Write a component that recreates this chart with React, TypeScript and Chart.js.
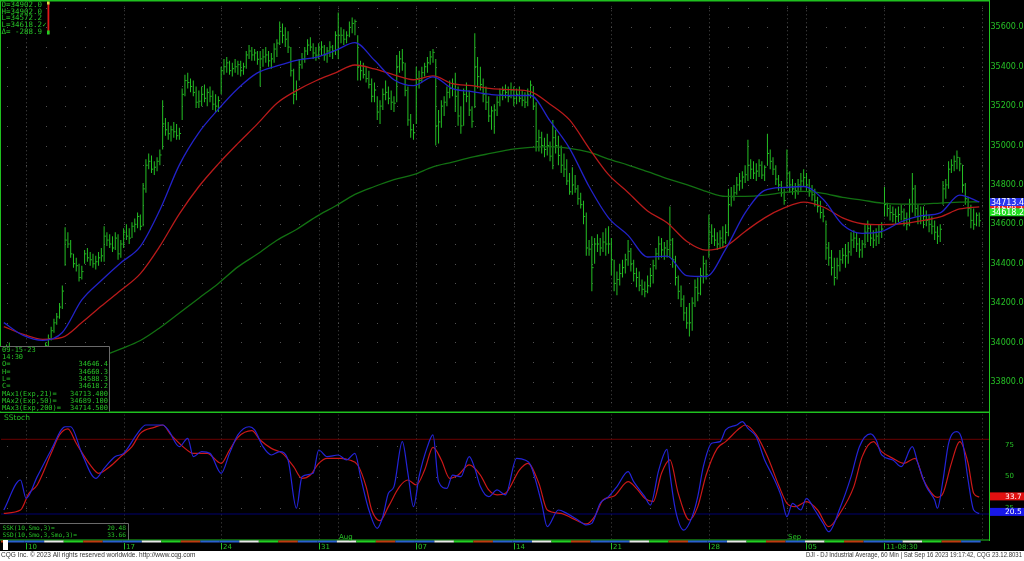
import React, { useEffect, useRef } from 'react';
import { Chart, registerables } from 'chart.js';
Chart.register(...registerables);

// ---------------- DATA (DJI 60 min, bar index 0 = Jul 6 14:30 CT ... 350 = Sep 15 14:30 CT) ----------------
const highs = [
  33960,
  33990, 34000, 33970, 33920, 33880, 33840, 33790,
  33790, 33800, 33830, 33850, 33880, 33920, 33965,
  34000, 34040, 34080, 34120, 34150, 34200, 34290,
  34585, 34560, 34520, 34450, 34430, 34400, 34390,
  34470, 34480, 34460, 34450, 34440, 34460, 34480,
  34590, 34560, 34550, 34540, 34560, 34550, 34520,
  34580, 34600, 34580, 34610, 34630, 34660, 34650,
  34810, 34930, 34960, 34950, 34920, 34940, 34980,
  35230, 35140, 35120, 35100, 35120, 35110, 35090,
  35290, 35360, 35370, 35340, 35330, 35300, 35280,
  35300, 35310, 35290, 35300, 35280, 35260, 35250,
  35400, 35440, 35450, 35430, 35420, 35440, 35430,
  35430, 35420, 35480, 35510, 35500, 35490, 35480,
  35480, 35490, 35500, 35480, 35470, 35520, 35540,
  35630, 35620, 35600, 35580, 35500, 35390, 35330,
  35440, 35470, 35500, 35540, 35550, 35520, 35500,
  35520, 35530, 35510, 35500, 35530, 35510, 35580,
  35675, 35600, 35590, 35580, 35630, 35650, 35640,
  35560, 35430, 35420, 35400, 35380, 35340, 35320,
  35250, 35230, 35290, 35330, 35300, 35280, 35250,
  35460, 35480, 35490, 35420, 35300, 35160, 35110,
  35400, 35380, 35400, 35420, 35450, 35480, 35490,
  35440, 35180, 35230, 35250, 35300, 35330, 35340,
  35370, 35300, 35200, 35290, 35320, 35280, 35200,
  35570, 35450, 35400, 35340, 35300, 35250, 35200,
  35210, 35250, 35290, 35300, 35310, 35300, 35320,
  35300, 35290, 35300, 35280, 35270, 35290, 35330,
  35300, 35220, 35080, 35070, 35040, 35060, 35020,
  35130, 35080, 35050, 35000, 34960, 34930, 34860,
  34890, 34850, 34800, 34760, 34720, 34660, 34520,
  34540, 34530, 34550, 34530, 34560, 34580, 34590,
  34530, 34420, 34360, 34400, 34420, 34450, 34520,
  34480, 34420, 34380, 34360, 34320, 34310, 34340,
  34380, 34420, 34480, 34540, 34530, 34510, 34520,
  34690, 34530, 34440, 34340, 34290, 34240, 34180,
  34200, 34230, 34320, 34330, 34380, 34440, 34420,
  34650, 34600, 34580, 34560, 34570, 34590, 34600,
  34780, 34790, 34800, 34840, 34860, 34870, 34900,
  35030, 34930, 34920, 34910, 34930, 34920, 34900,
  35060, 34980, 34940, 34900, 34850, 34820, 34780,
  34980, 34870, 34830, 34810, 34830, 34860, 34880,
  34860, 34830, 34800, 34780, 34740, 34720, 34680,
  34620, 34510, 34470, 34430, 34430, 34470, 34480,
  34500, 34510, 34560, 34570, 34560, 34530, 34520,
  34600, 34620, 34600, 34570, 34580, 34600, 34610,
  34790, 34710, 34700, 34690, 34680, 34690, 34700,
  34680, 34660, 34730, 34860, 34800, 34700, 34690,
  34690, 34670, 34650, 34640, 34620, 34590, 34600,
  34820, 34830, 34920, 34930, 34950, 34975, 34940,
  34902, 34810, 34740, 34700, 34680, 34660, 34660.3,
];
const lows = [
  33890,
  33890, 33930, 33880, 33830, 33800, 33740, 33700,
  33710, 33720, 33760, 33780, 33810, 33850, 33890,
  33950, 33970, 34010, 34050, 34090, 34120, 34170,
  34390, 34480, 34430, 34380, 34360, 34310, 34320,
  34400, 34410, 34390, 34380, 34370, 34390, 34410,
  34410, 34490, 34480, 34460, 34470, 34420, 34430,
  34480, 34520, 34500, 34530, 34560, 34580, 34570,
  34590, 34760, 34880, 34860, 34850, 34870, 34900,
  34980, 35050, 35030, 35020, 35040, 35030, 35030,
  35130, 35250, 35290, 35270, 35250, 35190, 35190,
  35200, 35220, 35200, 35220, 35180, 35170, 35170,
  35260, 35360, 35370, 35360, 35350, 35370, 35360,
  35350, 35360, 35390, 35440, 35430, 35430, 35410,
  35300, 35400, 35420, 35400, 35390, 35420, 35450,
  35510, 35520, 35500, 35470, 35350, 35210, 35230,
  35330, 35390, 35420, 35460, 35480, 35440, 35430,
  35440, 35460, 35430, 35420, 35450, 35440, 35460,
  35440, 35520, 35510, 35520, 35550, 35570, 35560,
  35330, 35330, 35340, 35320, 35290, 35220, 35220,
  35130, 35110, 35180, 35230, 35210, 35180, 35170,
  35220, 35370, 35380, 35250, 35100, 35040, 35030,
  35110, 35290, 35320, 35350, 35370, 35410, 35420,
  35000, 35010, 35090, 35150, 35200, 35240, 35250,
  35170, 35100, 35060, 35100, 35220, 35150, 35090,
  35190, 35290, 35280, 35220, 35180, 35120, 35080,
  35060, 35150, 35200, 35230, 35240, 35220, 35240,
  35200, 35210, 35220, 35200, 35190, 35200, 35240,
  35180, 34970, 34970, 34960, 34940, 34950, 34920,
  34880, 34960, 34900, 34860, 34840, 34800, 34750,
  34750, 34760, 34700, 34680, 34600, 34440, 34440,
  34260, 34400, 34460, 34440, 34460, 34440, 34450,
  34340, 34260, 34240, 34290, 34330, 34350, 34390,
  34360, 34310, 34280, 34260, 34240, 34230, 34250,
  34280, 34300, 34370, 34420, 34430, 34420, 34430,
  34430, 34380, 34290, 34220, 34180, 34110, 34070,
  34030, 34060, 34180, 34210, 34240, 34300, 34320,
  34430, 34500, 34490, 34470, 34480, 34480, 34500,
  34540, 34690, 34720, 34750, 34770, 34780, 34810,
  34820, 34830, 34830, 34820, 34840, 34830, 34820,
  34900, 34880, 34850, 34800, 34770, 34740, 34700,
  34780, 34760, 34750, 34730, 34750, 34770, 34790,
  34770, 34740, 34720, 34690, 34660, 34630, 34610,
  34420, 34390, 34340, 34290, 34320, 34360, 34400,
  34380, 34400, 34440, 34480, 34460, 34430, 34430,
  34480, 34510, 34490, 34480, 34490, 34500, 34530,
  34640, 34640, 34620, 34610, 34600, 34610, 34620,
  34590, 34570, 34590, 34660, 34640, 34600, 34600,
  34580, 34590, 34560, 34550, 34520, 34500, 34510,
  34700, 34730, 34780, 34860, 34870, 34880, 34870,
  34760, 34700, 34640, 34580, 34572.2, 34590, 34588.3,
];
const closes = [
  33920,
  33960, 33950, 33900, 33850, 33820, 33760, 33734,
  33760, 33780, 33800, 33830, 33860, 33900, 33944,
  33985, 34020, 34060, 34100, 34130, 34180, 34261,
  34520, 34500, 34450, 34400, 34390, 34330, 34360,
  34450, 34430, 34420, 34400, 34410, 34430, 34440,
  34540, 34520, 34500, 34480, 34530, 34450, 34500,
  34560, 34540, 34530, 34590, 34600, 34640, 34590,
  34780, 34900, 34920, 34880, 34890, 34920, 34952,
  35110, 35080, 35060, 35080, 35070, 35050, 35061,
  35260, 35330, 35320, 35300, 35270, 35220, 35225,
  35260, 35240, 35270, 35250, 35210, 35200, 35228,
  35380, 35400, 35420, 35380, 35390, 35400, 35411,
  35380, 35400, 35460, 35480, 35460, 35470, 35438,
  35440, 35450, 35460, 35430, 35440, 35490, 35520,
  35580, 35560, 35540, 35500, 35380, 35260, 35282,
  35410, 35440, 35480, 35510, 35500, 35470, 35459,
  35490, 35500, 35460, 35480, 35500, 35480, 35560,
  35560, 35560, 35540, 35560, 35600, 35620, 35630,
  35400, 35380, 35360, 35340, 35310, 35250, 35282,
  35170, 35200, 35260, 35270, 35240, 35220, 35215,
  35400, 35440, 35420, 35280, 35130, 35080, 35065,
  35340, 35330, 35370, 35400, 35420, 35450, 35473,
  35100, 35120, 35200, 35220, 35270, 35290, 35314,
  35250, 35150, 35100, 35260, 35250, 35180, 35123,
  35400, 35350, 35310, 35260, 35220, 35150, 35176,
  35180, 35220, 35260, 35280, 35270, 35250, 35281,
  35240, 35260, 35240, 35230, 35220, 35260, 35307,
  35200, 35020, 35040, 35000, 34980, 35000, 34946,
  35040, 35000, 34950, 34900, 34880, 34820, 34765,
  34800, 34780, 34730, 34700, 34640, 34480, 34474,
  34380, 34500, 34500, 34480, 34510, 34500, 34500,
  34420, 34300, 34320, 34350, 34380, 34420, 34463,
  34400, 34350, 34330, 34290, 34270, 34260, 34288,
  34340, 34390, 34450, 34500, 34470, 34480, 34472,
  34520, 34420, 34330, 34260, 34220, 34150, 34099,
  34100, 34200, 34280, 34250, 34340, 34400, 34346,
  34560, 34540, 34520, 34500, 34530, 34510, 34559,
  34700, 34740, 34760, 34800, 34820, 34840, 34852,
  34900, 34880, 34860, 34870, 34900, 34850, 34890,
  34960, 34920, 34880, 34830, 34800, 34760, 34721,
  34860, 34800, 34780, 34770, 34800, 34820, 34837,
  34800, 34770, 34750, 34720, 34690, 34660, 34641,
  34480, 34430, 34380, 34330, 34390, 34420, 34443,
  34440, 34460, 34520, 34530, 34500, 34470, 34500,
  34560, 34580, 34530, 34520, 34540, 34560, 34576,
  34700, 34680, 34660, 34650, 34640, 34650, 34663,
  34630, 34600, 34700, 34780, 34680, 34640, 34645,
  34640, 34620, 34600, 34590, 34560, 34540, 34575,
  34780, 34800, 34880, 34900, 34920, 34940, 34907,
  34800, 34730, 34680, 34620, 34600, 34646.4, 34618.2,
];

// Moving averages read every 7 bars (bar 0, 7, ..., 350)
const MA_STEP = 7;
const ema21 = [
  34101, 34036, 34011, 34051, 34216, 34315, 34405, 34488, 34673, 34902,
  35066, 35185, 35290, 35369, 35404, 35433, 35448, 35483, 35523, 35433,
  35334, 35304, 35349, 35289, 35274, 35259, 35254, 35254, 35125, 34986,
  34792, 34633, 34544, 34434, 34439, 34340, 34335, 34474, 34658, 34772,
  34787, 34792, 34727, 34598, 34554, 34564, 34613, 34643, 34658, 34748,
  34713.4,
];
const ema50 = [
  34081, 34041, 34016, 34026, 34101, 34185, 34265, 34350, 34489, 34653,
  34792, 34907, 35011, 35110, 35215, 35279, 35329, 35369, 35409, 35389,
  35359, 35334, 35354, 35314, 35304, 35289, 35284, 35274, 35210, 35130,
  34986, 34852, 34762, 34668, 34608, 34514, 34469, 34489, 34564, 34633,
  34683, 34713, 34688, 34633, 34603, 34598, 34603, 34618, 34638, 34678,
  34689.1,
];
const ema200 = [
  33880, 33875, 33872, 33880, 33900, 33930, 33968, 34010, 34075, 34150,
  34225, 34300, 34384, 34449, 34519, 34574, 34638, 34693, 34752, 34792,
  34827, 34852, 34892, 34916, 34941, 34961, 34981, 34991, 34995, 34986,
  34966, 34931, 34901, 34867, 34832, 34802, 34767, 34742, 34742, 34748,
  34762, 34767, 34757, 34737, 34723, 34708, 34703, 34703, 34708, 34713,
  34714.5,
];

// Slow stochastic (10, Smo 3, Smo 3) read at turning points: bar index + value
const kIdx = [
  0, 6, 8, 12, 17, 22, 24, 28, 33, 36, 40, 43, 48, 51, 57, 59, 63, 66, 68, 71,
  74, 78, 81, 84, 88, 90, 93, 96, 99, 102, 105, 107, 111, 113, 116, 120, 123, 126, 128, 131,
  134, 136, 138, 140, 143, 145, 147, 149, 152, 154, 156, 159, 161, 164, 167, 169, 171, 174, 177, 180,
  184, 187, 189, 193, 195, 199, 202, 206, 209, 211, 214, 217, 220, 224, 226, 230, 232, 235, 238, 239,
  241, 244, 247, 249, 251, 254, 257, 259, 263, 265, 267, 270, 273, 276, 279, 281, 283, 286, 288, 291,
  294, 296, 300, 304, 307, 311, 313, 315, 319, 322, 326, 328, 331, 334, 335, 337, 339, 342, 344, 346,
  348, 350,
];
const kVal = [
  23.2, 47.3, 32.6, 50, 71.4, 90.1, 90.1, 68.7, 48.6, 56.7, 66.1, 68.7, 84.8, 91.5, 91.5, 87.5, 74.1, 80.8, 66.1, 70.1,
  68.7, 52.7, 68.7, 83.5, 90.1, 87.5, 74.1, 67.4, 70.1, 63.4, 24.6, 50, 52.7, 71.4, 66.1, 67.4, 63.4, 68.7, 50, 23.2,
  8.5, 17.9, 36.6, 42, 78.1, 52.7, 25.9, 50, 74.1, 83.5, 46, 40.6, 51.3, 50, 66.1, 56.7, 42, 33.9, 39.3, 35.3,
  64.7, 63.4, 59.4, 28.6, 9.8, 23.2, 20.5, 15.2, 11.2, 12.5, 28.6, 33.9, 42, 54, 46, 33.9, 27.2, 55.3, 71.9, 52.7,
  23.2, 7.1, 17.9, 33.9, 58, 76.8, 78.1, 87.5, 91.5, 94.2, 88.8, 82.1, 63.4, 50, 33.9, 17.9, 28.6, 23.2, 32.6, 23.2,
  12.5, 5.8, 24.6, 50, 74.1, 84.3, 79.4, 67.4, 63.4, 58, 74.1, 60.7, 42, 31.2, 24.6, 47.3, 76.8, 86.1, 78.1, 47.3,
  23.2, 20.48,
];
const dIdx = [
  0, 6, 9, 12, 17, 20, 23, 26, 31, 34, 38, 42, 46, 49, 54, 57, 60, 65, 68, 73,
  78, 81, 84, 89, 92, 96, 100, 104, 107, 110, 113, 116, 121, 124, 127, 130, 132, 135, 138, 142,
  145, 148, 151, 154, 157, 160, 163, 167, 171, 174, 177, 180, 185, 188, 192, 195, 200, 204, 209, 212,
  215, 219, 224, 227, 230, 233, 236, 239, 242, 246, 249, 252, 256, 259, 264, 266, 270, 274, 278, 281,
  284, 288, 292, 296, 300, 305, 308, 312, 315, 319, 323, 327, 330, 335, 337, 340, 343, 346, 348, 350,
];
const dVal = [
  20.5, 23.2, 36.6, 43.3, 68.7, 83.5, 88.3, 76.8, 59.4, 52.7, 58, 66.1, 74.1, 84.8, 89.6, 91.5, 83.5, 72.7, 68.7, 68.7,
  60.7, 71.4, 81.6, 86.9, 79.4, 72.7, 68.7, 58, 48.6, 51.3, 60.7, 64.7, 64.7, 63.4, 59.4, 42, 23.2, 14.6, 25.9, 42,
  47.3, 43.3, 55.3, 73.5, 63.4, 48.6, 51.3, 59.4, 51.3, 39.3, 35.3, 36.6, 55.3, 60.7, 44.6, 23.2, 20.5, 16.5, 12, 17.9,
  31.2, 34.5, 46, 40.6, 32.6, 29.9, 52.7, 63.4, 36.6, 15.2, 25.9, 51.3, 72.7, 78.1, 88.8, 91.5, 83.5, 66.1, 43.3, 28.6,
  25.9, 29.9, 23.2, 9.8, 20.5, 42, 66.1, 78.1, 70.1, 64.7, 60.7, 64.7, 47.3, 33.4, 36.6, 60.7, 78.1, 60.7, 36.6, 33.66,
];

// Sessions (weekday 1=Mon..5=Fri): Jul 6 (partial), Jul 7, Jul 10 ... Sep 1, Sep 5 ... Sep 15
const sessionWeekdays = [
  4, 5,
  1, 2, 3, 4, 5, 1, 2, 3, 4, 5, 1, 2, 3, 4, 5, 1, 2, 3, 4, 5,
  1, 2, 3, 4, 5, 1, 2, 3, 4, 5, 1, 2, 3, 4, 5, 1, 2, 3, 4, 5,
  2, 3, 4, 5,
  1, 2, 3, 4, 5,
];
const weekStartIdx = [8, 43, 78, 113, 148, 183, 218, 253, 288, 316];
const weekLabels = ['10', '17', '24', '31', '07', '14', '21', '28', '05', '11-08:30'];
const nextWeekIdx = 351;
const monthStartIdx = [120, 281];
const monthLabels = ['Aug', 'Sep'];
const priceTicks = [33800, 34000, 34200, 34400, 34600, 34800, 35000, 35200, 35400, 35600];
const stochTicks = [25, 50, 75];

const topInfo = ['O=34902.0', 'H=34902.0', 'L=34572.2', 'L=34618.2\u2713', '\u0394= -288.9'];
const boxRows: [string, string][] = [
  ['09-15-23', ''],
  ['14:30', ''],
  ['O=', '34646.4'],
  ['H=', '34660.3'],
  ['L=', '34588.3'],
  ['C=', '34618.2'],
  ['MAx1(Exp,21)=', '34713.400'],
  ['MAx2(Exp,50)=', '34689.100'],
  ['MAx3(Exp,200)=', '34714.500'],
];
const stochRows: [string, string][] = [
  ['SSK(10,Smo,3)=', '20.48'],
  ['SSD(10,Smo,3,Smo,3)=', '33.66'],
];
const lastClose = 34618.2;
const lastK = 20.48;
const lastD = 33.66;

// ---------------- STYLE ----------------
const X_MIN = -1;
const X_MAX = 353.5;
const P_MIN = 33674;
const P_MAX = 35707;
const BAR_GREEN = '#24c024';
const TXT_GREEN = '#26c026';
const LINE_GREEN = '#1fc01f';
const GRID = '#505050';
const dayColors: Record<number, string> = { 1: '#2a5fd0', 2: '#e8e8e8', 3: '#22d022', 4: '#c03a10', 5: '#2a5fd0' };

const priceLevels: number[] = [];
for (let p = 33700; p <= 35700; p += 100) priceLevels.push(p);

function sessionStart(s: number) {
  return s === 0 ? -6 : 1 + 7 * (s - 1);
}

function drawGrid(chart: any, levels: number[]) {
  const { ctx, chartArea: a, scales } = chart;
  const x = scales.x;
  const y = scales.y;
  ctx.save();
  ctx.beginPath();
  ctx.rect(a.left, a.top, a.right - a.left, a.bottom - a.top);
  ctx.clip();
  ctx.fillStyle = GRID;
  for (let s = 1; s <= sessionWeekdays.length; s++) {
    const px = Math.round(x.getPixelForValue(sessionStart(s)));
    for (const lv of levels) {
      const py = Math.round(y.getPixelForValue(lv));
      ctx.fillRect(px, py, 1, 1);
    }
  }
  ctx.strokeStyle = '#4a4a4a';
  ctx.lineWidth = 1;
  ctx.setLineDash([1, 3]);
  for (const b of [...weekStartIdx, nextWeekIdx, ...monthStartIdx]) {
    const px = Math.round(x.getPixelForValue(b)) + 0.5;
    ctx.beginPath();
    ctx.moveTo(px, a.top);
    ctx.lineTo(px, a.bottom);
    ctx.stroke();
  }
  ctx.restore();
}

function valueBox(ctx: any, yc: number, bg: string, text: string, tx: number, font: string) {
  ctx.fillStyle = bg;
  ctx.fillRect(990, yc - 4, 34, 8);
  ctx.fillStyle = '#ffffff';
  ctx.font = font;
  ctx.textAlign = 'left';
  ctx.textBaseline = 'middle';
  ctx.fillText(text, tx, yc + 0.5);
}

const pricePlugin = {
  id: 'pricePane',
  beforeDraw(chart: any) {
    const { ctx, width, height } = chart;
    ctx.save();
    ctx.fillStyle = '#000';
    ctx.fillRect(0, 0, width, height);
    ctx.restore();
  },
  beforeDatasetsDraw(chart: any) {
    drawGrid(chart, priceLevels);
  },
  afterDraw(chart: any) {
    const { ctx, scales } = chart;
    const y = scales.y;
    ctx.save();
    // borders
    ctx.fillStyle = LINE_GREEN;
    ctx.fillRect(0, 0, 989, 1.5);
    ctx.fillRect(0, 0, 1, 412);
    ctx.fillRect(0, 411.5, 990, 1.5);
    ctx.fillRect(989, 0, 1, 413);

    // top-left info
    ctx.font = '7.5px "DejaVu Sans Mono"';
    ctx.fillStyle = TXT_GREEN;
    ctx.textBaseline = 'middle';
    ctx.textAlign = 'left';
    topInfo.forEach((t, i) => ctx.fillText(t, 1.5, 5 + i * 6.7));
    ctx.fillStyle = '#e01818';
    ctx.fillRect(47.5, 2, 1.8, 32);
    ctx.fillStyle = '#d8e040';
    ctx.fillRect(47, 1.5, 2.6, 3);
    ctx.fillStyle = '#22d022';
    ctx.fillRect(47, 30.5, 2.6, 4);

    // bottom-left data box
    ctx.fillStyle = '#000';
    ctx.fillRect(0, 346, 109, 65.5);
    ctx.strokeStyle = '#6a6a6a';
    ctx.lineWidth = 1;
    ctx.beginPath();
    ctx.moveTo(0, 346.5);
    ctx.lineTo(109.5, 346.5);
    ctx.lineTo(109.5, 411.5);
    ctx.stroke();
    ctx.font = '7px "DejaVu Sans Mono"';
    ctx.fillStyle = TXT_GREEN;
    boxRows.forEach(([l, v], i) => {
      const yy = 350 + i * 7.32;
      ctx.textAlign = 'left';
      ctx.fillText(l, 2, yy);
      if (v) {
        ctx.textAlign = 'right';
        ctx.fillText(v, 108, yy);
      }
    });

    // axis value boxes
    const blueVal = ema21[ema21.length - 1];
    const redVal = ema50[ema50.length - 1];
    const yb = y.getPixelForValue(blueVal);
    const yr = Math.max(y.getPixelForValue(redVal), yb + 7);
    const yg = y.getPixelForValue(lastClose) - 8.5;
    const f = '8px "DejaVu Sans"';
    valueBox(ctx, yr, '#e02020', redVal.toFixed(1), 991, f);
    valueBox(ctx, yb, '#2a36f0', blueVal.toFixed(1), 991, f);
    valueBox(ctx, yg, '#22dd22', lastClose.toFixed(1), 991, f);
    ctx.restore();
  },
};

const stochPlugin = {
  id: 'stochPane',
  beforeDraw(chart: any) {
    const { ctx, width, height } = chart;
    ctx.save();
    ctx.fillStyle = '#000';
    ctx.fillRect(0, 0, width, height);
    ctx.restore();
  },
  beforeDatasetsDraw(chart: any) {
    drawGrid(chart, stochTicks);
  },
  afterDraw(chart: any) {
    const { ctx, scales } = chart;
    const x = scales.x;
    const y = scales.y;
    ctx.save();
    ctx.textAlign = 'left';
    ctx.textBaseline = 'middle';
    // axis tick labels (from the scale)
    ctx.font = '7px "DejaVu Sans"';
    ctx.fillStyle = TXT_GREEN;
    stochTicks.forEach((v) => ctx.fillText(String(v), 1005, y.getPixelForValue(v)));

    // label
    ctx.font = '7.5px "DejaVu Sans"';
    ctx.fillText('SStoch', 4, 5.5);

    // legend box
    ctx.fillStyle = '#000';
    ctx.fillRect(0, 110.5, 128, 16.5);
    ctx.strokeStyle = '#6a6a6a';
    ctx.lineWidth = 1;
    ctx.beginPath();
    ctx.moveTo(0, 110.5);
    ctx.lineTo(128.5, 110.5);
    ctx.lineTo(128.5, 127);
    ctx.stroke();
    ctx.font = '6.2px "DejaVu Sans Mono"';
    ctx.fillStyle = TXT_GREEN;
    stochRows.forEach(([l, v], i) => {
      const yy = 115.3 + i * 6.8;
      ctx.textAlign = 'left';
      ctx.fillText(l, 2.5, yy);
      ctx.textAlign = 'right';
      ctx.fillText(v, 126, yy);
    });

    // value boxes
    const f = '7.5px "DejaVu Sans"';
    valueBox(ctx, y.getPixelForValue(lastD) - 0.6, '#e01010', lastD.toFixed(1), 1005, f);
    valueBox(ctx, y.getPixelForValue(lastK) - 1.5, '#1818e8', lastK.toFixed(1), 1005, f);

    // borders
    ctx.fillStyle = LINE_GREEN;
    ctx.fillRect(989, 0, 1, 128);
    ctx.fillRect(0, 126.5, 990, 1);

    // date strip
    sessionWeekdays.forEach((wd, s) => {
      const st = sessionStart(s);
      const x0 = Math.max(1, x.getPixelForValue(st - 0.5));
      const x1 = Math.min(989, x.getPixelForValue(st + 6.5));
      if (x1 > x0) {
        ctx.fillStyle = dayColors[wd];
        ctx.fillRect(x0, 127.5, x1 - x0, 2);
      }
    });
    ctx.fillStyle = '#ffffff';
    ctx.fillRect(3, 127, 5, 10);

    ctx.fillStyle = TXT_GREEN;
    ctx.font = '7px "DejaVu Sans"';
    ctx.textAlign = 'left';
    ctx.textBaseline = 'alphabetic';
    weekStartIdx.forEach((b, i) => {
      const px = Math.round(x.getPixelForValue(b));
      ctx.fillRect(px, 130, 1, 6.5);
      ctx.fillText(weekLabels[i], px + 2, 136.2);
    });
    monthStartIdx.forEach((b, i) => {
      const px = Math.round(x.getPixelForValue(b));
      ctx.fillText(monthLabels[i], px + 1, 126);
    });

    // footer
    ctx.fillStyle = '#ffffff';
    ctx.fillRect(0, 138, 1024, 10);
    ctx.fillStyle = '#333333';
    ctx.font = '6.5px "Liberation Sans"';
    ctx.textAlign = 'left';
    ctx.fillText('CQG Inc. \u00a9 2023 All rights reserved worldwide. http://www.cqg.com', 1, 144.3, 196);
    ctx.textAlign = 'right';
    ctx.fillText('DJI - DJ Industrial Average, 60 Min | Sat Sep 16 2023 19:17:42, CQG 23.12.8031', 1022, 144.3, 216);
    ctx.restore();
  },
};

export default function App() {
  const pRef = useRef<HTMLCanvasElement | null>(null);
  const sRef = useRef<HTMLCanvasElement | null>(null);

  useEffect(() => {
    document.body.style.margin = '0';
    document.body.style.background = '#000';
    const common: any = {
      responsive: false,
      animation: false,
      events: [],
      plugins: { legend: { display: false }, tooltip: { enabled: false } },
    };
    const maPts = (arr: number[]) => arr.map((v, k) => ({ x: k * MA_STEP, y: v }));
    const lineDs = (data: any[], color: string, order: number, width = 1.3) => ({
      type: 'line',
      data,
      borderColor: color,
      borderWidth: width,
      pointRadius: 0,
      cubicInterpolationMode: 'monotone',
      fill: false,
      order,
    });

    const priceChart = new Chart(pRef.current as HTMLCanvasElement, {
      type: 'line',
      data: {
        datasets: [
          lineDs(maPts(ema21), '#2222c8', 0),
          lineDs(maPts(ema50), '#b81a1a', 1),
          lineDs(maPts(ema200), '#127012', 2),
          {
            type: 'scatter',
            data: closes.map((c, i) => ({ x: i + 0.36, y: c })),
            pointStyle: 'line',
            pointRadius: 0.7,
            borderColor: BAR_GREEN,
            borderWidth: 1,
            showLine: false,
            order: 3,
          },
          {
            type: 'bar',
            data: highs.map((h, i) => ({ x: i, y: [lows[i], h] })),
            backgroundColor: BAR_GREEN,
            borderWidth: 0,
            barThickness: 1,
            inflateAmount: 0,
            grouped: false,
            order: 4,
          },
        ] as any,
      },
      options: {
        ...common,
        layout: { autoPadding: false, padding: { left: 1, top: 2, right: 0, bottom: 2 } },
        scales: {
          x: { type: 'linear', min: X_MIN, max: X_MAX, display: false, offset: false },
          y: {
            type: 'linear',
            position: 'right',
            min: P_MIN,
            max: P_MAX,
            grid: { display: false, drawTicks: false },
            border: { display: false },
            afterBuildTicks: (s: any) => {
              s.ticks = priceTicks.map((v) => ({ value: v }));
            },
            ticks: {
              padding: 1.5,
              color: TXT_GREEN,
              font: { family: 'DejaVu Sans', size: 8 },
              callback: (v: any) => Number(v).toFixed(1),
            },
            afterFit: (s: any) => {
              s.width = 35;
            },
          },
        },
      },
      plugins: [pricePlugin as any],
    } as any);

    const stochChart = new Chart(sRef.current as HTMLCanvasElement, {
      type: 'line',
      data: {
        datasets: [
          lineDs(kIdx.map((x, k) => ({ x, y: kVal[k] })), '#2424d8', 0, 1.2),
          lineDs(dIdx.map((x, k) => ({ x, y: dVal[k] })), '#cc1818', 1, 1.2),
          lineDs([{ x: X_MIN, y: 80 }, { x: X_MAX, y: 80 }], '#6a0000', 2, 1),
          lineDs([{ x: X_MIN, y: 20 }, { x: X_MAX, y: 20 }], '#00006e', 3, 1),
        ] as any,
      },
      options: {
        ...common,
        layout: { autoPadding: false, padding: { left: 1, top: 1.4, right: 0, bottom: 22.1 } },
        scales: {
          x: { type: 'linear', min: X_MIN, max: X_MAX, display: false, offset: false },
          y: {
            type: 'linear',
            position: 'right',
            min: 0,
            max: 100,
            grid: { display: false, drawTicks: false },
            border: { display: false },
            afterBuildTicks: (s: any) => {
              s.ticks = stochTicks.map((v) => ({ value: v }));
            },
            ticks: { display: false },
            afterFit: (s: any) => {
              s.width = 35;
            },
          },
        },
      },
      plugins: [stochPlugin as any],
    } as any);

    return () => {
      priceChart.destroy();
      stochChart.destroy();
    };
  }, []);

  return (
    <div style={{ position: 'absolute', left: 0, top: 0, width: 1024, height: 561, background: '#000', overflow: 'hidden' }}>
      <canvas ref={pRef} width={1024} height={413} style={{ position: 'absolute', left: 0, top: 0, width: 1024, height: 413 }} />
      <canvas ref={sRef} width={1024} height={148} style={{ position: 'absolute', left: 0, top: 413, width: 1024, height: 148 }} />
    </div>
  );
}
